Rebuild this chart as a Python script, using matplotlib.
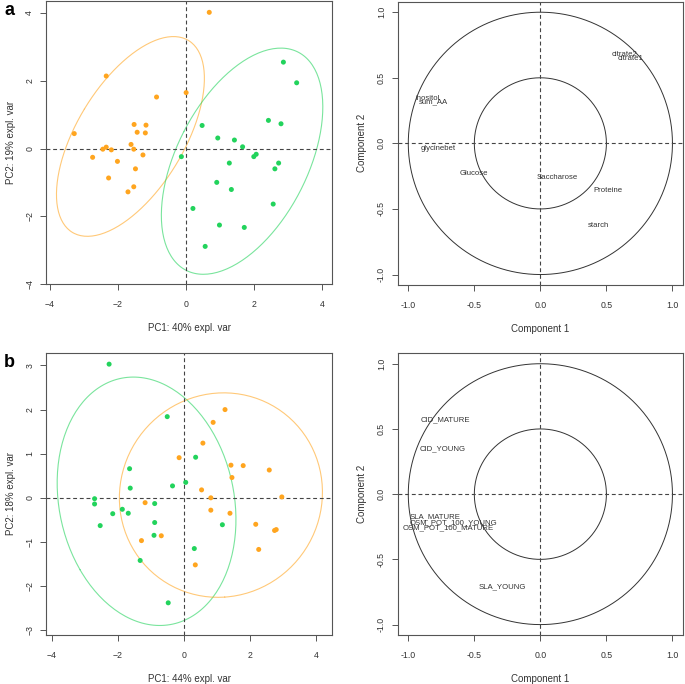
import numpy as np
import matplotlib
matplotlib.use('Agg')
import matplotlib.pyplot as plt

plt.rcParams['font.family'] = ['Liberation Sans', 'DejaVu Sans']

ORANGE = '#FFA51F'
GREEN = '#22D35C'

# panel a: individuals
a_orange_x = [0.68, -2.35, -0.87, 0.00, -3.29, -1.53, -1.18, -1.44, -1.20, -1.62, -2.35,
              -2.45, -2.20, -1.54, -1.27, -2.75, -2.02, -1.49, -2.28, -1.54, -1.71]
a_orange_y = [4.02, 2.14, 1.52, 1.65, 0.44, 0.71, 0.69, 0.48, 0.46, 0.12, 0.04,
              -0.02, -0.04, -0.02, -0.19, -0.26, -0.38, -0.60, -0.87, -1.13, -1.28]
a_green_x = [2.86, 3.25, 2.42, 2.79, 0.47, 0.93, 1.42, 1.66, -0.14, 2.06, 1.99,
             1.27, 2.72, 2.61, 0.90, 1.33, 2.56, 0.20, 0.98, 1.71, 0.56]
a_green_y = [2.55, 1.94, 0.83, 0.73, 0.68, 0.31, 0.25, 0.05, -0.24, -0.17, -0.24,
             -0.43, -0.43, -0.60, -1.00, -1.21, -1.64, -1.77, -2.26, -2.33, -2.89]

# panel a: variables
a_vars = ['citrate2', 'citrate1', 'inositol', 'sum_AA', 'glycinebet',
          'Glucose', 'Saccharose', 'Proteine', 'starch']
a_var_x = [0.64, 0.68, -0.85, -0.81, -0.77, -0.50, 0.13, 0.51, 0.44]
a_var_y = [0.68, 0.65, 0.34, 0.32, -0.04, -0.23, -0.26, -0.36, -0.63]

# panel b: individuals
b_green_x = [-2.27, -0.51, 0.35, -1.65, -0.35, 0.05, -1.63, -2.71, -2.71, -0.89,
             -1.87, -2.16, -1.69, -2.54, -0.89, -0.91, 1.16, 0.31, -1.33, -0.48]
b_green_y = [3.03, 1.84, 0.92, 0.66, 0.27, 0.35, 0.22, -0.02, -0.14, -0.13,
             -0.26, -0.36, -0.35, -0.63, -0.56, -0.85, -0.61, -1.15, -1.42, -2.38]
b_orange_x = [1.24, 0.88, 0.57, -0.15, 1.42, 1.79, 2.58, 1.45, 0.53, 0.81, 2.96,
              -1.18, 0.81, 1.39, 2.17, 2.74, 2.79, -0.69, -1.29, 2.26, 0.34]
b_orange_y = [2.00, 1.71, 1.24, 0.91, 0.74, 0.73, 0.63, 0.46, 0.18, 0.00, 0.02,
              -0.11, -0.28, -0.35, -0.60, -0.74, -0.72, -0.86, -0.97, -1.17, -1.52]

# panel b: variables
b_vars = ['CID_MATURE', 'CID_YOUNG', 'SLA_MATURE', 'OSM_POT_100_YOUNG',
          'OSM_POT_100_MATURE', 'SLA_YOUNG']
b_var_x = [-0.72, -0.74, -0.80, -0.66, -0.70, -0.29]
b_var_y = [0.57, 0.35, -0.17, -0.22, -0.26, -0.71]


def conf_ellipse(x, y, level_t=2.4477, n=200):
    """95% confidence ellipse from the covariance of the points."""
    x = np.asarray(x)
    y = np.asarray(y)
    cov = np.cov(x, y)
    vals, vecs = np.linalg.eigh(cov)
    t = np.linspace(0, 2 * np.pi, n)
    circ = np.vstack([np.cos(t), np.sin(t)])
    pts = vecs @ (np.sqrt(vals)[:, None] * circ) * level_t
    return pts[0] + x.mean(), pts[1] + y.mean()


def style_axes(ax):
    for sp in ax.spines.values():
        sp.set_color('#555555')
        sp.set_linewidth(0.8)
    ax.tick_params(direction='out', length=4, width=0.7, color='#555555',
                   labelsize=6.3, labelcolor='#333333')
    ax.tick_params(axis='x', pad=7.5)
    ax.tick_params(axis='y', pad=4.5)
    for lab in ax.get_yticklabels():
        lab.set_rotation(90)
        lab.set_va('center')


def indiv_panel(ax, groups, xlim, ylim, yticks, xlabel, ylabel):
    for gx, gy, col in groups:
        ex, ey = conf_ellipse(gx, gy)
        ax.plot(ex, ey, color=col, lw=0.8, alpha=0.6)
        ax.scatter(gx, gy, s=13, color=col, edgecolors='none', zorder=3)
    ax.axhline(0, color='#444444', ls=(0, (3.5, 2.5)), lw=0.8)
    ax.axvline(0, color='#444444', ls=(0, (3.5, 2.5)), lw=0.8)
    ax.set_xlim(*xlim)
    ax.set_ylim(*ylim)
    ax.set_xticks([-4, -2, 0, 2, 4])
    ax.set_yticks(yticks)
    ax.set_xlabel(xlabel, fontsize=7, color='#333333', labelpad=10)
    ax.set_ylabel(ylabel, fontsize=7, color='#333333', labelpad=7)
    style_axes(ax)


def var_panel(ax, names, vx, vy):
    t = np.linspace(0, 2 * np.pi, 300)
    for r in (1.0, 0.5):
        ax.plot(r * np.cos(t), r * np.sin(t), color='#333333', lw=0.7)
    ax.axhline(0, color='#444444', ls=(0, (3.5, 2.5)), lw=0.8)
    ax.axvline(0, color='#444444', ls=(0, (3.5, 2.5)), lw=0.8)
    for name, x, y in zip(names, vx, vy):
        ax.text(x, y, name, fontsize=5.6, color='#333333', ha='center', va='center')
    ax.set_xlim(-1.08, 1.08)
    ax.set_ylim(-1.08, 1.08)
    ax.set_xticks([-1.0, -0.5, 0.0, 0.5, 1.0])
    ax.set_yticks([-1.0, -0.5, 0.0, 0.5, 1.0])
    ax.set_xticklabels(['-1.0', '-0.5', '0.0', '0.5', '1.0'])
    ax.set_yticklabels(['-1.0', '-0.5', '0.0', '0.5', '1.0'])
    ax.set_xlabel('Component 1', fontsize=7, color='#333333', labelpad=10)
    ax.set_ylabel('Component 2', fontsize=7, color='#333333', labelpad=7)
    style_axes(ax)


fig = plt.figure(figsize=(6.85, 6.84), dpi=100)

ax1 = fig.add_axes([0.0672, 0.5848, 0.4175, 0.4140])
indiv_panel(ax1, [(a_orange_x, a_orange_y, ORANGE), (a_green_x, a_green_y, GREEN)],
            (-4.12, 4.29), (-4.0, 4.36), [-4, -2, 0, 2, 4],
            'PC1: 40% expl. var', 'PC2: 19% expl. var')

ax2 = fig.add_axes([0.5806, 0.5833, 0.4165, 0.4142])
var_panel(ax2, a_vars, a_var_x, a_var_y)

ax3 = fig.add_axes([0.0672, 0.0716, 0.4175, 0.4128])
indiv_panel(ax3, [(b_green_x, b_green_y, GREEN), (b_orange_x, b_orange_y, ORANGE)],
            (-4.18, 4.48), (-3.11, 3.29), [-3, -2, -1, 0, 1, 2, 3],
            'PC1: 44% expl. var', 'PC2: 18% expl. var')

ax4 = fig.add_axes([0.5806, 0.0716, 0.4165, 0.4119])
var_panel(ax4, b_vars, b_var_x, b_var_y)

fig.text(0.006, 0.985, 'a', fontsize=13, fontweight='bold', va='center', ha='left')
fig.text(0.006, 0.470, 'b', fontsize=13, fontweight='bold', va='center', ha='left')

fig.savefig('out.png', dpi=100)
